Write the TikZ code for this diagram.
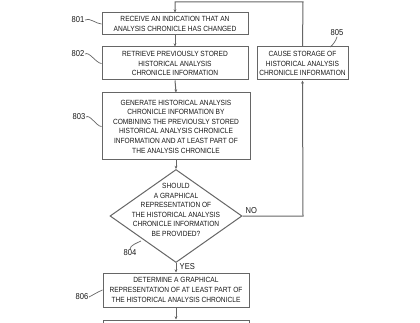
\documentclass[tikz,border=0pt]{standalone}
\usepackage{fontspec}
\setmainfont{Liberation Sans}[FakeStretch=0.88]
\usetikzlibrary{arrows.meta,shapes.geometric}
\definecolor{ln}{gray}{0.4}
\definecolor{tx}{gray}{0.1}
\begin{document}
\begin{tikzpicture}[x=1pt,y=-1pt,
  every node/.style={text=tx},
  stepbox/.style={draw=ln,line width=1pt,rectangle,inner sep=0pt,align=center,
    font=\fontsize{7.5}{9.6}\selectfont},
  decbox/.style={draw=ln,line width=1pt,diamond,inner sep=0pt},
  dtext/.style={align=center,inner sep=0pt,font=\fontsize{7.5}{9.6}\selectfont},
  conn/.style={draw=ln,line width=1pt,-{Stealth[length=3.2pt,width=2.8pt]}},
  lead/.style={draw=ln,line width=0.7pt},
  lbl/.style={font=\fontsize{8.6}{9}\selectfont,inner sep=0.5pt}]
\useasboundingbox (0,0) rectangle (420,323);
\clip (0,0) rectangle (420,323);
\fill[white] (0,0) rectangle (420,323);
\node[stepbox,minimum width=146pt,minimum height=22pt] (n801) at (175,24)
  {RECEIVE AN INDICATION THAT AN\\ANALYSIS CHRONICLE HAS CHANGED};
\node[stepbox,minimum width=146pt,minimum height=33pt] (n802) at (175,63.5)
  {RETRIEVE PREVIOUSLY STORED\\HISTORICAL ANALYSIS\\CHRONICLE INFORMATION};
\node[stepbox,minimum width=148pt,minimum height=67pt] (n803) at (176,126.5)
  {GENERATE HISTORICAL ANALYSIS\\CHRONICLE INFORMATION BY\\COMBINING THE PREVIOUSLY STORED\\HISTORICAL ANALYSIS CHRONICLE\\INFORMATION AND AT LEAST PART OF\\THE ANALYSIS CHRONICLE};
\node[decbox,minimum width=132pt,minimum height=93pt] (n804) at (176,216) {};
\node[dtext] (t804) at (176,210)
  {SHOULD\\A GRAPHICAL\\REPRESENTATION OF\\THE HISTORICAL ANALYSIS\\CHRONICLE INFORMATION\\BE PROVIDED?};
\node[stepbox,minimum width=91pt,minimum height=33pt] (n805) at (302.5,63.5)
  {CAUSE STORAGE OF\\HISTORICAL ANALYSIS\\CHRONICLE INFORMATION};
\node[stepbox,minimum width=146pt,minimum height=34pt] (n806) at (176,290)
  {DETERMINE A GRAPHICAL\\REPRESENTATION OF AT LEAST PART OF\\THE HISTORICAL ANALYSIS CHRONICLE};
\node[stepbox,minimum width=146pt,minimum height=40pt] (n807) at (176,340) {};
% connectors
\draw[conn] (n801.south) -- (n802.north);
\draw[conn] (n802.south) -- (n803.north);
\draw[conn] (n803.south) -- (n804.north);
\draw[conn] (n804.south) -- (n806.north);
\draw[conn] (n806.south) -- (n807.north);
\coordinate (c1) at (303,216);
\coordinate (c2) at (303,2);
\coordinate (c3) at (175,2);
\draw[conn] (n804.east) -- (c1) -- (n805.south);
\draw[conn] (n805.north) -- (c2) -- (c3) -- (n801.north);
\node[lbl,anchor=south west] (no) at (245,214) {NO};
\node[lbl,anchor=west] (yes) at (179,267) {YES};
% reference labels
\node[lbl] (l801) at (78,20) {801};
\draw[lead] (l801.east) .. controls +(4,-3) and +(-5,0) .. (n801.west);
\node[lbl] (l802) at (78,54) {802};
\draw[lead] (l802.east) .. controls +(4,-3) and +(-5,0) .. (n802.west);
\node[lbl] (l803) at (79,117) {803};
\draw[lead] (l803.east) .. controls +(4,-3) and +(-5,0) .. (n803.west);
\node[lbl] (l806) at (82,297) {806};
\draw[lead] (l806.east) .. controls +(4,-2) and +(-5,2) .. (n806.west);
\node[lbl] (l804) at (130,253) {804};
\coordinate (e804) at (141,241);
\draw[lead] (l804.north) .. controls +(0,-4) and +(-4,2) .. (e804);
\node[lbl] (l805) at (337,33) {805};
\coordinate (e805) at (330,47);
\draw[lead] (l805.south) .. controls +(-1,4) and +(3,-2) .. (e805);
\end{tikzpicture}
\end{document}
